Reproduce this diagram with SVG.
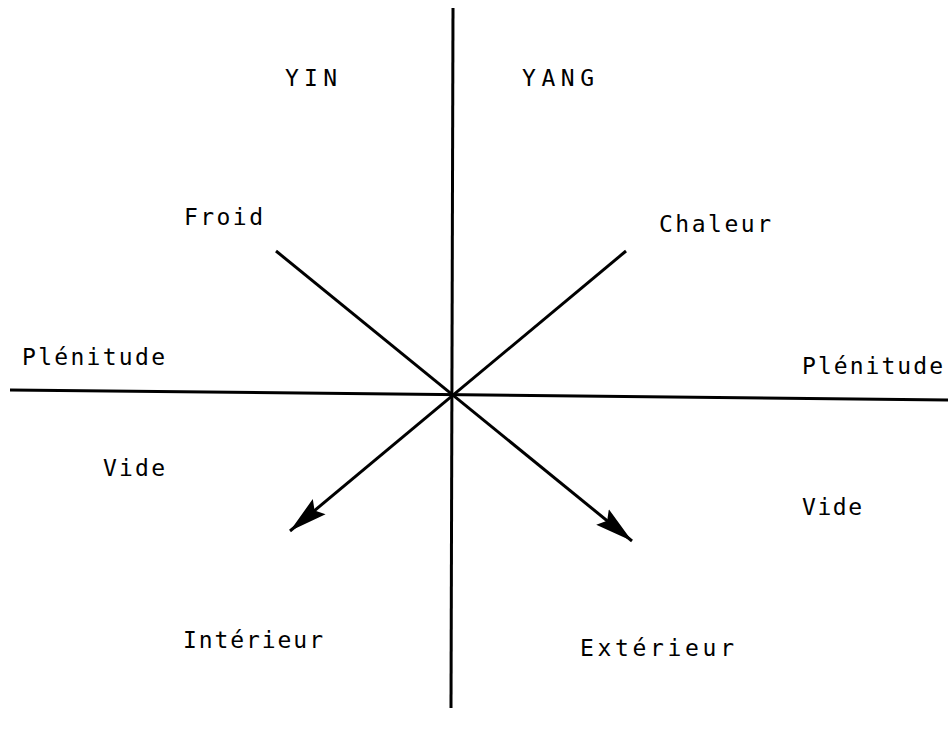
<svg xmlns="http://www.w3.org/2000/svg" width="951" height="735" viewBox="0 0 951 735">
<style>
text{font-family:"DejaVu Sans Mono","Liberation Mono",monospace;font-size:23px;fill:#000}
.ln{stroke:#000;stroke-width:3;fill:none}
</style>
<defs>
<marker id="ah" markerUnits="userSpaceOnUse" markerWidth="40" markerHeight="24" refX="38" refY="12" orient="auto" viewBox="0 0 40 24">
<path d="M0,2 L38,12 L0,22 L6,12 Z" fill="#000"/>
</marker>
</defs>
<g id="connectors">
<line class="ln" x1="453" y1="8" x2="451" y2="708"/>
<line class="ln" x1="10" y1="390" x2="948" y2="400"/>
<line class="ln" x1="276" y1="251" x2="632" y2="541" marker-end="url(#ah)"/>
<line class="ln" x1="626" y1="251" x2="290" y2="531" marker-end="url(#ah)"/>
</g>
<g id="yin"><text x="285" y="86" textLength="52" lengthAdjust="spacing">YIN</text></g>
<g id="yang"><text x="522" y="86" textLength="72" lengthAdjust="spacing">YANG</text></g>
<g id="froid"><text x="184" y="225" textLength="79" lengthAdjust="spacing">Froid</text></g>
<g id="chaleur"><text x="659" y="232" textLength="112" lengthAdjust="spacing">Chaleur</text></g>
<g id="plenitude-left"><text x="22" y="365" textLength="143" lengthAdjust="spacing">Plénitude</text></g>
<g id="plenitude-right"><text x="802" y="374" textLength="141" lengthAdjust="spacing">Plénitude</text></g>
<g id="vide-left"><text x="103" y="476" textLength="62" lengthAdjust="spacing">Vide</text></g>
<g id="vide-right"><text x="802" y="515" textLength="60" lengthAdjust="spacing">Vide</text></g>
<g id="interieur"><text x="183" y="648" textLength="140" lengthAdjust="spacing">Intérieur</text></g>
<g id="exterieur"><text x="580" y="656" textLength="154" lengthAdjust="spacing">Extérieur</text></g>
</svg>
